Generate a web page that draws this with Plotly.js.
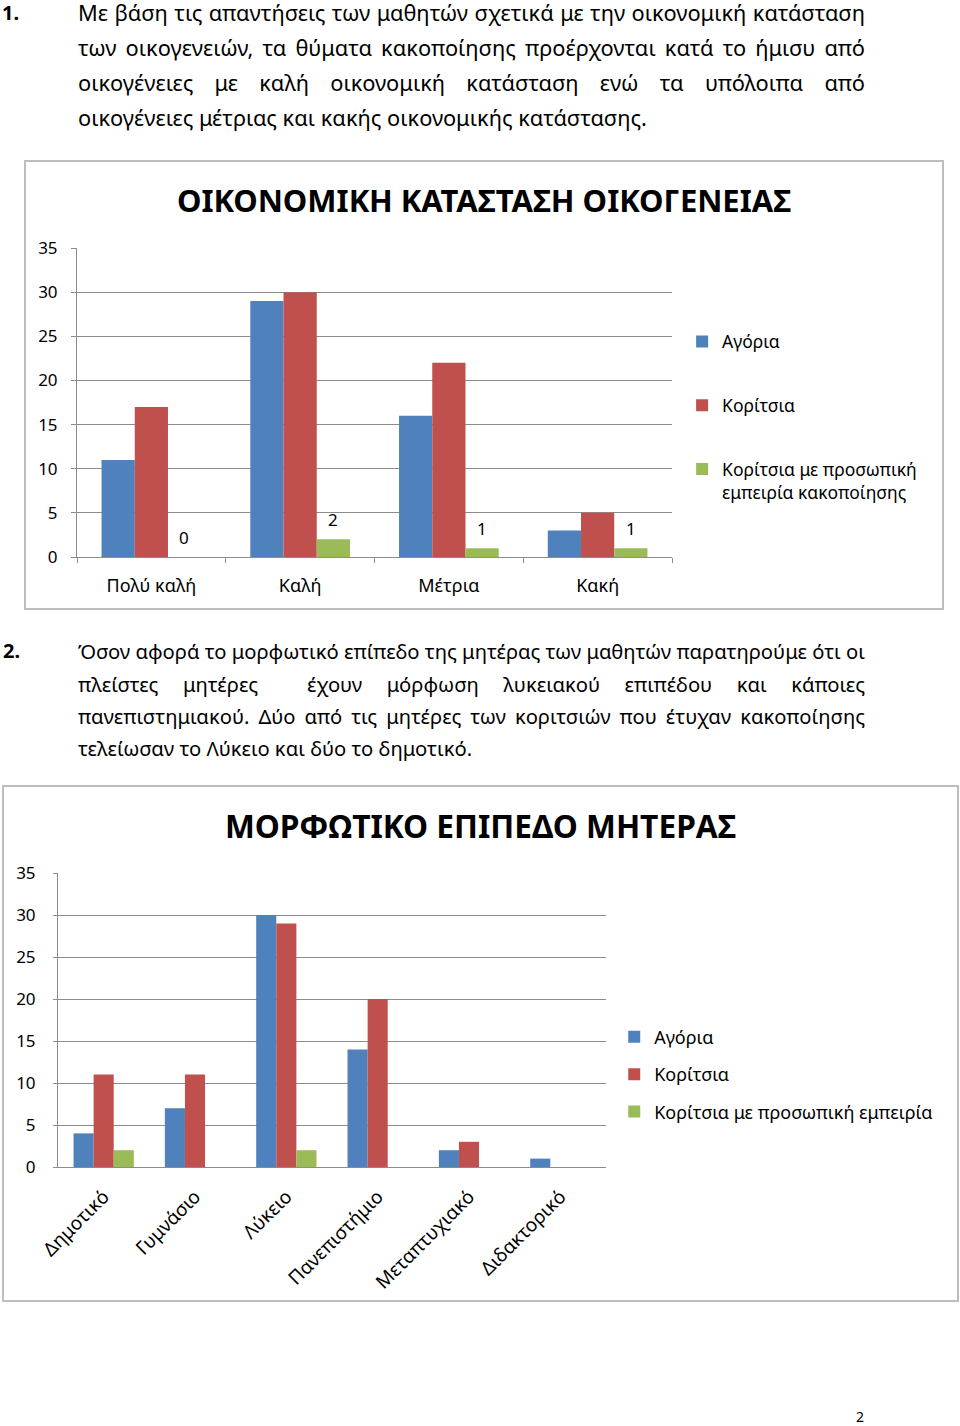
<!DOCTYPE html>
<html>
<head>
<meta charset="utf-8">
<script src="https://cdn.plot.ly/plotly-3.0.1.min.js"></script>
<style>
  html, body { margin:0; padding:0; background:#fff; }
  body { width:960px; height:1426px; position:relative; overflow:hidden; font-family:"Noto Sans", sans-serif; color:#000; }
  .num { position:absolute; font-weight:bold; font-size:20px; line-height:24px; }
  .line { position:absolute; left:78px; width:787px; white-space:nowrap; text-align:justify; text-align-last:justify; }
  .p1 { font-size:21.8px; line-height:26px; }
  .p2 { font-size:20.2px; line-height:26px; }
  .line.last { text-align:left; text-align-last:left; }
  .box { position:absolute; border:2px solid #bdbdbd; box-sizing:border-box; pointer-events:none; }
  .plot { position:absolute; }
</style>
</head>
<body>
<div class="num" style="left:2px; top:1px;">1.</div>
<div class="line p1" style="top:0px;">Με βάση τις απαντήσεις των μαθητών σχετικά με την οικονομική κατάσταση</div>
<div class="line p1" style="top:35px;">των οικογενειών, τα θύματα κακοποίησης προέρχονται κατά το ήμισυ από</div>
<div class="line p1" style="top:70px;">οικογένειες με καλή οικονομική κατάσταση ενώ τα υπόλοιπα από</div>
<div class="line p1 last" style="top:105px;">οικογένειες μέτριας και κακής οικονομικής κατάστασης.</div>

<div id="chart1" class="plot" style="left:25px; top:161px; width:918px; height:448px;"></div>
<div class="box" style="left:24px; top:160px; width:920px; height:450px;"></div>

<div class="num" style="left:3px; top:639px;">2.</div>
<div class="line p2" style="top:638px;">Όσον αφορά το μορφωτικό επίπεδο της μητέρας των μαθητών παρατηρούμε ότι οι</div>
<div class="line p2" style="top:671px;">πλείστες μητέρες &nbsp;έχουν μόρφωση λυκειακού επιπέδου και κάποιες</div>
<div class="line p2" style="top:703px;">πανεπιστημιακού. Δύο από τις μητέρες των κοριτσιών που έτυχαν κακοποίησης</div>
<div class="line p2 last" style="top:735px;">τελείωσαν το Λύκειο και δύο το δημοτικό.</div>

<div id="chart2" class="plot" style="left:3px; top:786px; width:955px; height:515px;"></div>
<div class="box" style="left:2px; top:785px; width:957px; height:517px;"></div>

<div style="position:absolute; left:856px; top:1408px; font-size:14px; line-height:18px;">2</div>

<script>
// ---- Chart 1 data ----
const econCategories = ["Πολύ καλή", "Καλή", "Μέτρια", "Κακή"];
const econBoys = [11, 29, 16, 3];
const econGirls = [17, 30, 22, 5];
const econGirlsAbuse = [0, 2, 1, 1];
const econTitle = "ΟΙΚΟΝΟΜΙΚΗ ΚΑΤΑΣΤΑΣΗ ΟΙΚΟΓΕΝΕΙΑΣ";
const econSeriesNames = ["Αγόρια", "Κορίτσια", "Κορίτσια με προσωπική<br>εμπειρία κακοποίησης"];

// ---- Chart 2 data ----
const eduCategories = ["Δημοτικό", "Γυμνάσιο", "Λύκειο", "Πανεπιστήμιο", "Μεταπτυχιακό", "Διδακτορικό"];
const eduBoys = [4, 7, 30, 14, 2, 1];
const eduGirls = [11, 11, 29, 20, 3, 0];
const eduGirlsAbuse = [2, 0, 2, 0, 0, 0];
const eduTitle = "ΜΟΡΦΩΤΙΚΟ ΕΠΙΠΕΔΟ ΜΗΤΕΡΑΣ";
const eduSeriesNames = ["Αγόρια", "Κορίτσια", "Κορίτσια με προσωπική εμπειρία"];

const yTicks = [0, 5, 10, 15, 20, 25, 30, 35];

const BLUE = "#4F81BD", RED = "#C0504D", GREEN = "#9BBB59";
const FONT = "Noto Sans, sans-serif";
const GRID = "#8c8c8c";

function bars(cats, vals, name, color, group, extra) {
  return Object.assign({
    type: "bar", x: cats, y: vals, name: name, legendgroup: group,
    marker: { color: color, line: { width: 0 } }, hoverinfo: "skip"
  }, extra || {});
}

const traces1 = [
  bars(econCategories, econBoys, econSeriesNames[0], BLUE, "a"),
  bars(econCategories, econGirls, econSeriesNames[1], RED, "b"),
  bars(econCategories, econGirlsAbuse, econSeriesNames[2], GREEN, "c")
];

// data labels for the third series, positioned through the axes
const econLabels = econCategories.map((c, i) => ({
  x: c, y: econGirlsAbuse[i], xref: "x", yref: "y", text: String(econGirlsAbuse[i]),
  showarrow: false, yanchor: "middle", yshift: 20, xshift: 33,
  font: { family: FONT, size: 17, color: "#000" }
}));

const layout1 = {
  width: 918, height: 448,
  margin: { l: 52, r: 271, t: 87, b: 52, autoexpand: false },
  paper_bgcolor: "rgba(0,0,0,0)", plot_bgcolor: "rgba(0,0,0,0)",
  font: { family: FONT, size: 17, color: "#000" },
  title: { text: "<b>" + econTitle + "</b>", font: { family: FONT, size: 31, color: "#000" },
           x: 0.5, xanchor: "center", y: 0.91, yanchor: "middle" },
  barmode: "group", bargap: 0.33, bargroupgap: 0,
  showlegend: true,
  legend: { x: 1.017, xanchor: "left", y: 0.755, yanchor: "top", traceorder: "grouped",
            tracegroupgap: 38, valign: "top", font: { family: FONT, size: 17.5, color: "#000" },
            itemclick: false, itemdoubleclick: false },
  annotations: econLabels,
  xaxis: { type: "category", showgrid: false, showline: true, linecolor: GRID, linewidth: 1,
           ticks: "outside", tickson: "boundaries", ticklen: 5, tickcolor: GRID,
           tickfont: { family: FONT, size: 18 }, ticklabelstandoff: 12, fixedrange: true },
  yaxis: { range: [0, 35], tickvals: yTicks, showgrid: true, gridcolor: GRID, gridwidth: 1,
           showline: true, linecolor: GRID, ticks: "outside", ticklen: 5, tickcolor: GRID,
           zeroline: false, tickfont: { family: FONT, size: 17 }, ticklabelstandoff: 10, fixedrange: true }
};

const traces2 = [
  bars(eduCategories, eduBoys, eduSeriesNames[0], BLUE, "a"),
  bars(eduCategories, eduGirls, eduSeriesNames[1], RED, "b"),
  bars(eduCategories, eduGirlsAbuse, eduSeriesNames[2], GREEN, "c")
];

const layout2 = {
  width: 955, height: 515,
  margin: { l: 55, r: 352, t: 87, b: 134, autoexpand: false },
  paper_bgcolor: "rgba(0,0,0,0)", plot_bgcolor: "rgba(0,0,0,0)",
  font: { family: FONT, size: 17, color: "#000" },
  title: { text: "<b>" + eduTitle + "</b>", font: { family: FONT, size: 31.7, color: "#000" },
           x: 0.5, xanchor: "center", y: 0.92, yanchor: "middle" },
  barmode: "group", bargap: 0.34, bargroupgap: 0,
  showlegend: true,
  legend: { x: 1.015, xanchor: "left", y: 0.505, yanchor: "top", traceorder: "grouped",
            tracegroupgap: 11, font: { family: FONT, size: 18, color: "#000" },
            itemclick: false, itemdoubleclick: false },
  xaxis: { type: "category", showgrid: false, showline: true, linecolor: GRID, linewidth: 1,
           ticks: "", tickangle: -45, tickfont: { family: FONT, size: 19 }, ticklabelstandoff: 10,
           fixedrange: true },
  yaxis: { range: [0, 35], tickvals: yTicks, showgrid: true, gridcolor: GRID, gridwidth: 1,
           showline: true, linecolor: GRID, ticks: "outside", ticklen: 4, tickcolor: GRID,
           zeroline: false, tickfont: { family: FONT, size: 17 }, ticklabelstandoff: 14, fixedrange: true }
};

const cfg = { displayModeBar: false, staticPlot: true };
Plotly.newPlot("chart1", traces1, layout1, cfg);
Plotly.newPlot("chart2", traces2, layout2, cfg);
</script>
</body>
</html>
